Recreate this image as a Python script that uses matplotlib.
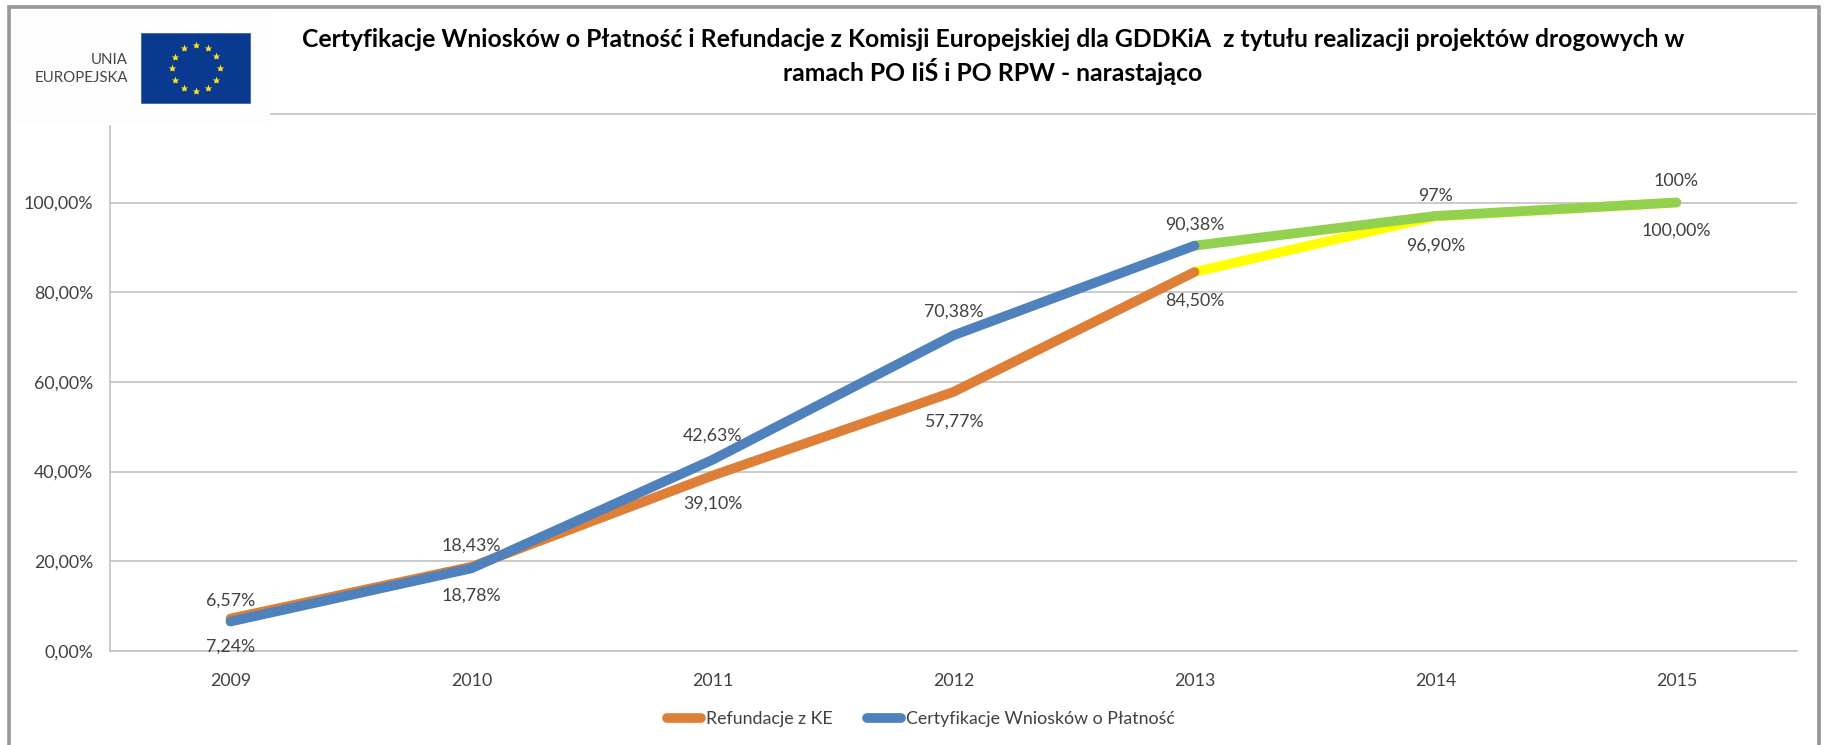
import numpy as np
import matplotlib.pyplot as plt
from matplotlib.patches import Rectangle

plt.rcParams['font.family'] = ['Lato', 'DejaVu Sans']

years = ['2009', '2010', '2011', '2012', '2013', '2014', '2015']

# Cumulative values, in percent. The last three points are drawn in another colour.
refund = [7.24, 18.78, 39.10, 57.77, 84.50]
refund_later = [84.50, 96.90, 100.00]
cert = [6.57, 18.43, 42.63, 70.38, 90.38]
cert_later = [90.38, 97.0, 100.0]

refund_labels = ['7,24%', '18,78%', '39,10%', '57,77%', '84,50%', '96,90%', '100,00%']
cert_labels = ['6,57%', '18,43%', '42,63%', '70,38%', '90,38%', '97%', '100%']

title = ('Certyfikacje Wniosków o Płatność i Refundacje z Komisji Europejskiej dla GDDKiA  '
         'z tytułu realizacji projektów drogowych w\nramach PO IiŚ i PO RPW - narastająco')

W, H = 1829, 745
TEXT = '#404040'
GRID = '#bdbdbd'
ORANGE = '#dd7f36'
BLUE = '#4f81bd'
LW = 7
FS = 12.8

fig = plt.figure(figsize=(W / 100, H / 100), dpi=100, facecolor='white')

# Plot area, from pixel positions in the reference.
left, right, y0, y100, top = 110, 1797, 651, 202.5, 126
ax = fig.add_axes([left / W, 1 - y0 / H, (right - left) / W, (y0 - top) / H])

x = np.arange(len(years))
ax.plot(x[:5], refund, color=ORANGE, lw=LW, solid_capstyle='round',
        solid_joinstyle='round', zorder=3, label='Refundacje z KE')
ax.plot(x[4:], refund_later, color='#ffff00', lw=LW, solid_capstyle='butt',
        solid_joinstyle='round', zorder=2)
ax.plot(x[:5], cert, color=BLUE, lw=LW, solid_capstyle='round',
        solid_joinstyle='round', zorder=5, label='Certyfikacje Wniosków o Płatność')
ax.plot(x[4:], cert_later, color='#92d050', lw=LW, solid_capstyle='round',
        solid_joinstyle='round', zorder=4)

ax.set_xlim(-0.5, 6.5)
ax.set_ylim(0, (y0 - top) / (y0 - y100) * 100)
ax.set_xticks(x)
ax.set_xticklabels(years)
ax.set_yticks(np.arange(0, 101, 20))
ax.set_yticklabels(['0,00%', '20,00%', '40,00%', '60,00%', '80,00%', '100,00%'])
ax.tick_params(axis='both', length=0, labelsize=FS, labelcolor=TEXT)
ax.tick_params(axis='x', pad=15.5)
ax.tick_params(axis='y', pad=12)
ax.grid(axis='y', color=GRID, lw=1.1)
ax.set_axisbelow(True)
for s in ['top', 'right']:
    ax.spines[s].set_visible(False)
for s in ['left', 'bottom']:
    ax.spines[s].set_color(GRID)
    ax.spines[s].set_linewidth(1.1)

# Data labels, offset in points from the value they belong to.
refund_all = refund + refund_later[1:]
cert_all = cert + cert_later[1:]
refund_off = [-20, -20.5, -20.5, -21.4, -20.5, -21, -20.4]
cert_off = [15.3, 16.5, 17.3, 17, 15.2, 14.5, 15.6]
for i in range(len(years)):
    ax.annotate(refund_labels[i], (x[i], refund_all[i]), xytext=(0, refund_off[i]),
                textcoords='offset points', ha='center', va='center',
                fontsize=FS, color=TEXT, zorder=6)
    ax.annotate(cert_labels[i], (x[i], cert_all[i]), xytext=(0, cert_off[i]),
                textcoords='offset points', ha='center', va='center',
                fontsize=FS, color=TEXT, zorder=6)

leg = fig.legend(loc='center', bbox_to_anchor=(921 / W, 1 - 719 / H), ncol=2, frameon=False,
                 fontsize=FS, labelcolor=TEXT, handlelength=1.9, handletextpad=0.3,
                 columnspacing=1.9, borderpad=0)

# Overlay in pixel coordinates for the frame, header and logo.
ov = fig.add_axes([0, 0, 1, 1], zorder=10)
ov.set_xlim(0, W)
ov.set_ylim(H, 0)
ov.axis('off')
ov.patch.set_alpha(0)

ov.add_patch(Rectangle((15, 10), 256, 112, fc='#fdfdfd', ec='none'))
ov.plot([9, 9, 1819, 1819], [H, 7, 7, H], color='#969696', lw=2.6, solid_joinstyle='miter')
ov.plot([271, 1815], [114, 114], color=GRID, lw=1.1)

ov.add_patch(Rectangle((141, 33), 109, 70, fc='#0a3a8f', ec='#3f66a8', lw=0.6))
ang = np.deg2rad(np.arange(0, 360, 30))
ov.plot(195.5 + 24 * np.cos(ang), 68 + 23 * np.sin(ang), ls='none', marker='*',
        ms=6, mfc='#ffe11a', mec='none')
ov.text(128, 60, 'UNIA', ha='right', va='center', fontsize=10.8, color='#454545')
ov.text(128, 78, 'EUROPEJSKA', ha='right', va='center', fontsize=10.8, color='#454545')

ov.text(993, 56.5, title, ha='center', va='center', fontsize=17.85, fontweight='bold',
        color='black', linespacing=1.3)

fig.savefig('out.png', dpi=100)
